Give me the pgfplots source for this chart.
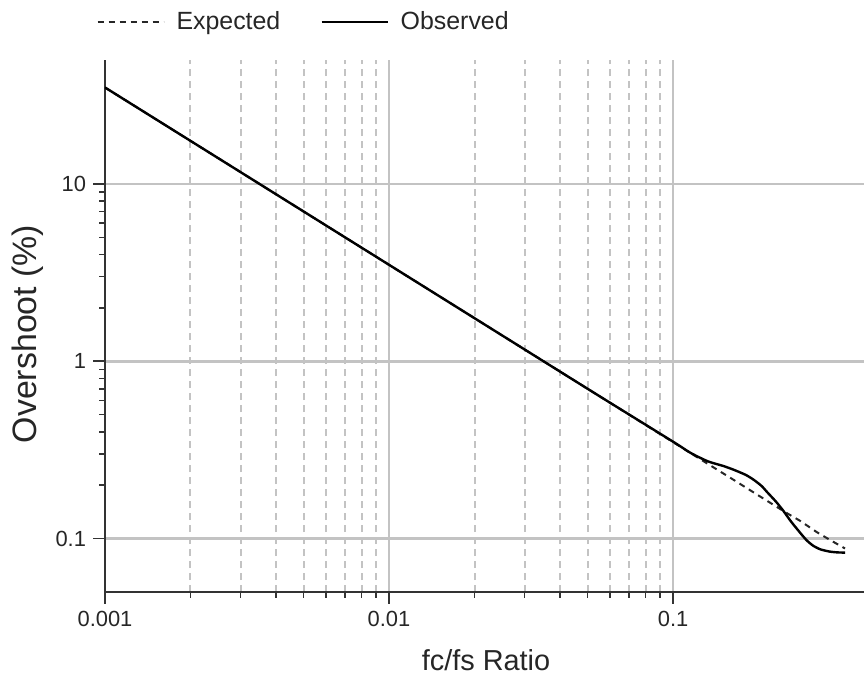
\documentclass[border=0pt]{standalone}
\usepackage{pgfplots}
\pgfplotsset{compat=1.18}
\usepackage{fontspec}
\setmainfont{Liberation Sans}
\definecolor{gridgray}{RGB}{195,195,195}
\begin{document}
\begin{tikzpicture}
\begin{axis}[
  scale only axis,
  width=379.5bp, height=266bp,
  xmode=log, ymode=log,
  xmin=0.001, xmax=0.47,
  ymin=0.05, ymax=50,
  axis x line=bottom, axis y line=left,
  axis line style={-, line width=1bp, black!80},
  xtick={0.001,0.01,0.1}, xticklabels={0.001,0.01,0.1},
  ytick={0.1,1,10}, yticklabels={0.1,1,10},
  tick align=outside,
  major tick length=6bp, minor tick length=3bp,
  every tick/.style={black!80, line width=0.8bp},
  xmajorgrids, ymajorgrids, xminorgrids,
  major grid style={gridgray, line width=1.4bp},
  minor x grid style={gridgray, line width=1bp, dash pattern=on 3.5bp off 2.5bp},
  /pgf/number format/assume math mode=true,
  tick label style={font=\fontsize{11}{13}\selectfont, black!85},
  xlabel={fc/fs Ratio}, ylabel={Overshoot (\%)},
  xlabel style={font=\fontsize{14.5}{17}\selectfont, black!85, at={(axis description cs:0.502,-0.128)}, anchor=center},
  ylabel style={font=\fontsize{17}{20}\selectfont, black!85, at={(axis description cs:-0.1015,0.485)}, anchor=center},
  legend columns=2,
  legend style={draw=none, fill=none, at={(axis description cs:0.263,1.071)}, anchor=center,
    font=\fontsize{12.5}{15}\selectfont, text=black!85,
    /tikz/every odd column/.append style={column sep=4bp},
    /tikz/every even column/.append style={column sep=18bp}},
  legend image code/.code={\draw[#1] (0bp,0bp) -- (33bp,0bp);},
]
\addplot[black!85, line width=1bp, dash pattern=on 3bp off 2.5bp] coordinates {
(0.001,35) (0.002,17.5) (0.005,7) (0.01,3.5) (0.02,1.75) (0.05,0.7) (0.1,0.35)
(0.13,0.269) (0.16,0.219) (0.2,0.175) (0.25,0.14) (0.28,0.126) (0.32,0.109) (0.36,0.0975) (0.403,0.088)
};
\addlegendentry{Expected}
\addplot[black, line width=1.2bp, smooth, tension=0.4] coordinates {
(0.001,35) (0.01,3.5) (0.05,0.7) (0.1,0.352) (0.115,0.305) (0.1324,0.273) (0.15,0.257)
(0.163,0.245) (0.18,0.229) (0.192,0.215) (0.205,0.198) (0.215,0.182) (0.23,0.162)
(0.244,0.144) (0.26,0.125) (0.28,0.108) (0.295,0.098) (0.311,0.0913) (0.33,0.087)
(0.356,0.0845) (0.38,0.0836) (0.403,0.0834)
};
\addlegendentry{Observed}
\end{axis}
\pgfresetboundingbox
\path (-52.5bp,-42.5bp) rectangle (379.5bp,296bp);
\end{tikzpicture}
\end{document}
